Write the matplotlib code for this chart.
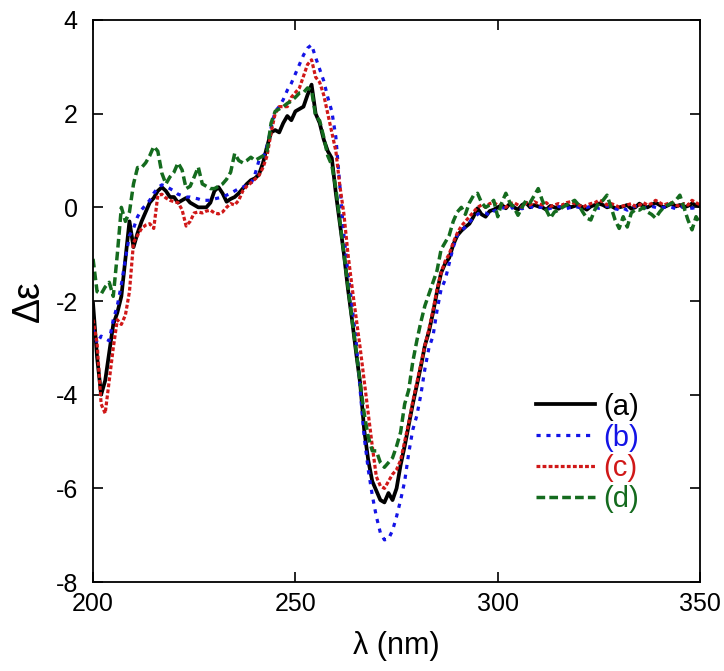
import numpy as np
import matplotlib
matplotlib.use("Agg")
import matplotlib.pyplot as plt

plt.rcParams['font.family'] = ['Liberation Sans', 'DejaVu Sans']
plt.rcParams['axes.unicode_minus'] = False

# wavelength grid, 1 nm steps
wavelength = np.arange(200, 351)

# (a) black solid
cd_a = [
    -2.05, -3.2, -4.0, -3.7, -3.1, -2.5, -2.25, -1.9, -1.1, -0.3,
    -0.85, -0.55, -0.3, -0.1, 0.1, 0.2, 0.35, 0.43, 0.35, 0.22,
    0.22, 0.1, 0.15, 0.2, 0.1, 0.05, 0.0, 0.0, 0.0, 0.1,
    0.35, 0.43, 0.3, 0.12, 0.18, 0.22, 0.3, 0.4, 0.5, 0.58,
    0.62, 0.7, 0.95, 1.3, 1.6, 1.65, 1.6, 1.8, 1.95, 1.86,
    2.05, 2.1, 2.15, 2.4, 2.62, 2.0, 1.8, 1.45, 1.2, 1.05,
    0.3, -0.35, -1.0, -1.75, -2.4, -3.1, -3.75, -4.75, -5.4, -5.85,
    -6.05, -6.25, -6.3, -6.1, -6.25, -6.0, -5.5, -5.1, -4.65, -4.2,
    -3.8, -3.4, -2.95, -2.65, -2.25, -1.8, -1.4, -1.2, -1.08, -0.8,
    -0.6, -0.5, -0.42, -0.35, -0.2, -0.02, -0.15, -0.2, -0.08, -0.05,
    0.0, 0.05, -0.02, 0.08, 0.0, -0.05, 0.05, 0.1, 0.0, 0.05,
    0.02, 0.0, -0.05, 0.03, 0.0, -0.03, 0.02, 0.06, 0.0, 0.03,
    0.05, 0.0, -0.05, 0.02, 0.05, 0.08, 0.05, 0.0, 0.03, -0.02,
    0.0, 0.02, 0.05, -0.03, 0.0, 0.08, 0.02, 0.0, 0.05, 0.1,
    0.05, 0.0, 0.04, 0.08, 0.02, 0.05, 0.0, 0.03, 0.08, 0.05,
    0.02,
]

# (b) blue dotted
cd_b = [
    -2.6, -2.9, -2.75, -2.8, -2.85, -2.4, -2.1, -1.65, -1.1, -0.6,
    -0.45, -0.2, -0.05, 0.05, 0.15, 0.3, 0.42, 0.48, 0.45, 0.4,
    0.35, 0.28, 0.25, 0.22, 0.22, 0.2, 0.18, 0.15, 0.15, 0.15,
    0.18, 0.2, 0.22, 0.26, 0.3, 0.35, 0.4, 0.43, 0.47, 0.5,
    0.7, 1.0, 1.05, 1.3, 1.7, 2.05, 2.15, 2.3, 2.5, 2.65,
    2.85, 3.05, 3.25, 3.4, 3.47, 3.2, 2.95, 2.7, 2.35, 2.05,
    1.5, 0.45, -0.6, -1.4, -2.1, -2.85, -3.9, -4.9, -5.6, -6.15,
    -6.6, -6.95, -7.1, -7.08, -6.9, -6.6, -6.25, -5.85, -5.25, -4.75,
    -4.45, -4.0, -3.45, -3.0, -2.75, -2.2, -1.75, -1.55, -1.2, -0.85,
    -0.6, -0.5, -0.42, -0.32, -0.22, -0.15, -0.1, -0.12, -0.17, -0.08,
    -0.05, -0.02, 0.0, -0.05, 0.02, 0.0, -0.03, 0.0, 0.02, -0.02,
    0.0, 0.0, -0.05, -0.02, 0.0, 0.02, 0.0, -0.03, 0.0, 0.02,
    0.0, -0.02, 0.0, 0.02, 0.0, -0.02, 0.0, 0.03, 0.0, -0.03,
    -0.05, -0.02, -0.06, 0.0, 0.02, 0.0, -0.02, 0.0, 0.02, 0.0,
    -0.02, 0.0, 0.02, 0.0, -0.03, 0.0, 0.02, 0.0, -0.02, 0.0,
    0.02,
]

# (c) red dense dotted
cd_c = [
    -2.4, -2.9, -4.2, -4.4, -3.7, -3.0, -2.4, -2.5, -2.3, -1.8,
    -0.75, -0.6, -0.45, -0.38, -0.35, -0.45, 0.25, 0.28, 0.2, 0.15,
    0.12, 0.1, -0.05, -0.4, -0.3, -0.12, -0.1, -0.12, -0.08, -0.06,
    -0.12, -0.14, -0.1, 0.0, 0.08, 0.05, 0.15, 0.35, 0.45, 0.52,
    0.6, 0.68, 0.85, 1.1, 1.6, 2.0, 2.15, 2.15, 2.15, 2.35,
    2.45, 2.55, 2.8, 3.05, 3.15, 2.78, 2.67, 2.4, 2.0, 1.6,
    1.2, 0.45, -0.15, -1.0, -1.7, -2.35, -3.0, -3.7, -4.4, -5.1,
    -5.75, -5.95, -6.0, -5.85, -5.7, -5.6, -5.4, -5.0, -4.6, -4.15,
    -3.75, -3.35, -2.95, -2.6, -2.2, -1.75, -1.4, -1.15, -1.0, -0.75,
    -0.55, -0.4, -0.3, -0.2, -0.1, 0.0, 0.05, 0.0, 0.08, 0.1,
    0.05, 0.05, 0.0, 0.08, 0.1, 0.05, 0.0, 0.1, 0.05, 0.12,
    0.08, 0.05, 0.1, 0.02, 0.05, 0.08, 0.05, 0.1, 0.12, 0.08,
    0.05, 0.0, 0.05, 0.08, 0.1, 0.15, 0.12, 0.05, 0.08, 0.05,
    0.0, 0.03, 0.05, 0.08, 0.02, 0.05, 0.1, 0.05, 0.08, 0.15,
    0.1, 0.05, 0.08, 0.1, 0.05, 0.02, 0.08, 0.05, 0.15, 0.1,
    0.05,
]

# (d) green dashed
cd_d = [
    -1.1, -1.8, -1.85, -1.7, -1.6, -1.9, -1.0, 0.0, -0.3, -0.1,
    0.5, 0.85, 0.85, 0.95, 1.1, 1.3, 1.2, 0.73, 0.5, 0.65,
    0.75, 0.95, 0.8, 0.4, 0.45, 0.65, 0.86, 0.5, 0.45, 0.4,
    0.4, 0.45, 0.5, 0.6, 0.75, 1.15, 1.0, 0.95, 1.0, 1.07,
    1.0, 1.05, 1.1, 1.2, 1.8, 2.05, 2.1, 2.15, 2.22, 2.27,
    2.35, 2.44, 2.45, 2.55, 2.5, 1.95, 1.85, 1.5, 1.1, 0.9,
    0.4, -0.3, -1.0, -1.7, -2.4, -3.05, -3.75, -4.4, -4.9, -5.2,
    -5.2, -5.45, -5.55, -5.45, -5.35, -5.1, -4.8, -4.2, -3.9, -3.3,
    -2.85, -2.45, -2.1, -1.85, -1.6, -1.35, -0.9, -0.75, -0.6, -0.3,
    -0.1, 0.0, -0.15, 0.1, 0.25, 0.3, 0.1, 0.0, 0.05, 0.15,
    -0.2, 0.1, 0.3, 0.1, 0.0, -0.17, 0.0, 0.15, 0.1, 0.25,
    0.4, 0.15, -0.06, -0.23, -0.1, -0.06, 0.0, 0.05, 0.1, 0.15,
    0.05, -0.1, -0.23, -0.27, -0.05, 0.1, 0.15, 0.26, 0.0, -0.27,
    -0.45, -0.2, -0.42, -0.12, -0.05, -0.06, 0.0, -0.1, -0.15, -0.23,
    -0.1, 0.0, 0.05, 0.09, 0.15, 0.26, 0.0, -0.27, -0.48, -0.2,
    -0.35,
]

labels = ["(a)", "(b)", "(c)", "(d)"]
colors = ["#000000", "#1414e6", "#d01818", "#146b1e"]

fig = plt.figure(figsize=(7.24, 6.71), dpi=100)
ax = fig.add_axes([0.1285, 0.1326, 0.8385, 0.8376])

ax.plot(wavelength, cd_a, color=colors[0], lw=2.7, label=labels[0])
ax.plot(wavelength, cd_b, color=colors[1], lw=2.3, dashes=(1.3, 1.8), label=labels[1])
ax.plot(wavelength, cd_c, color=colors[2], lw=2.3, dashes=(1.2, 0.7), label=labels[2])
ax.plot(wavelength, cd_d, color=colors[3], lw=2.5, dashes=(2.5, 1.2), label=labels[3])

ax.set_xlim(200, 350)
ax.set_ylim(-8, 4)
ax.set_xticks([200, 250, 300, 350])
ax.set_yticks([-8, -6, -4, -2, 0, 2, 4])
ax.tick_params(direction="in", length=7, width=1.2, labelsize=18,
               top=True, right=True)
ax.tick_params(axis="x", pad=7)
ax.tick_params(axis="y", pad=11)
for s in ax.spines.values():
    s.set_linewidth(1.3)

ax.set_xlabel("λ (nm)", fontsize=22, labelpad=11)
ax.set_ylabel("Δε", fontsize=27, labelpad=6)

leg = ax.legend(loc="center", bbox_to_anchor=(0.815, 0.2295), frameon=False,
                fontsize=21, handlelength=2.0, handletextpad=0.3,
                labelspacing=0.1, borderpad=0)
for txt, c in zip(leg.get_texts(), colors):
    txt.set_color(c)

fig.savefig("out.png", dpi=100)
